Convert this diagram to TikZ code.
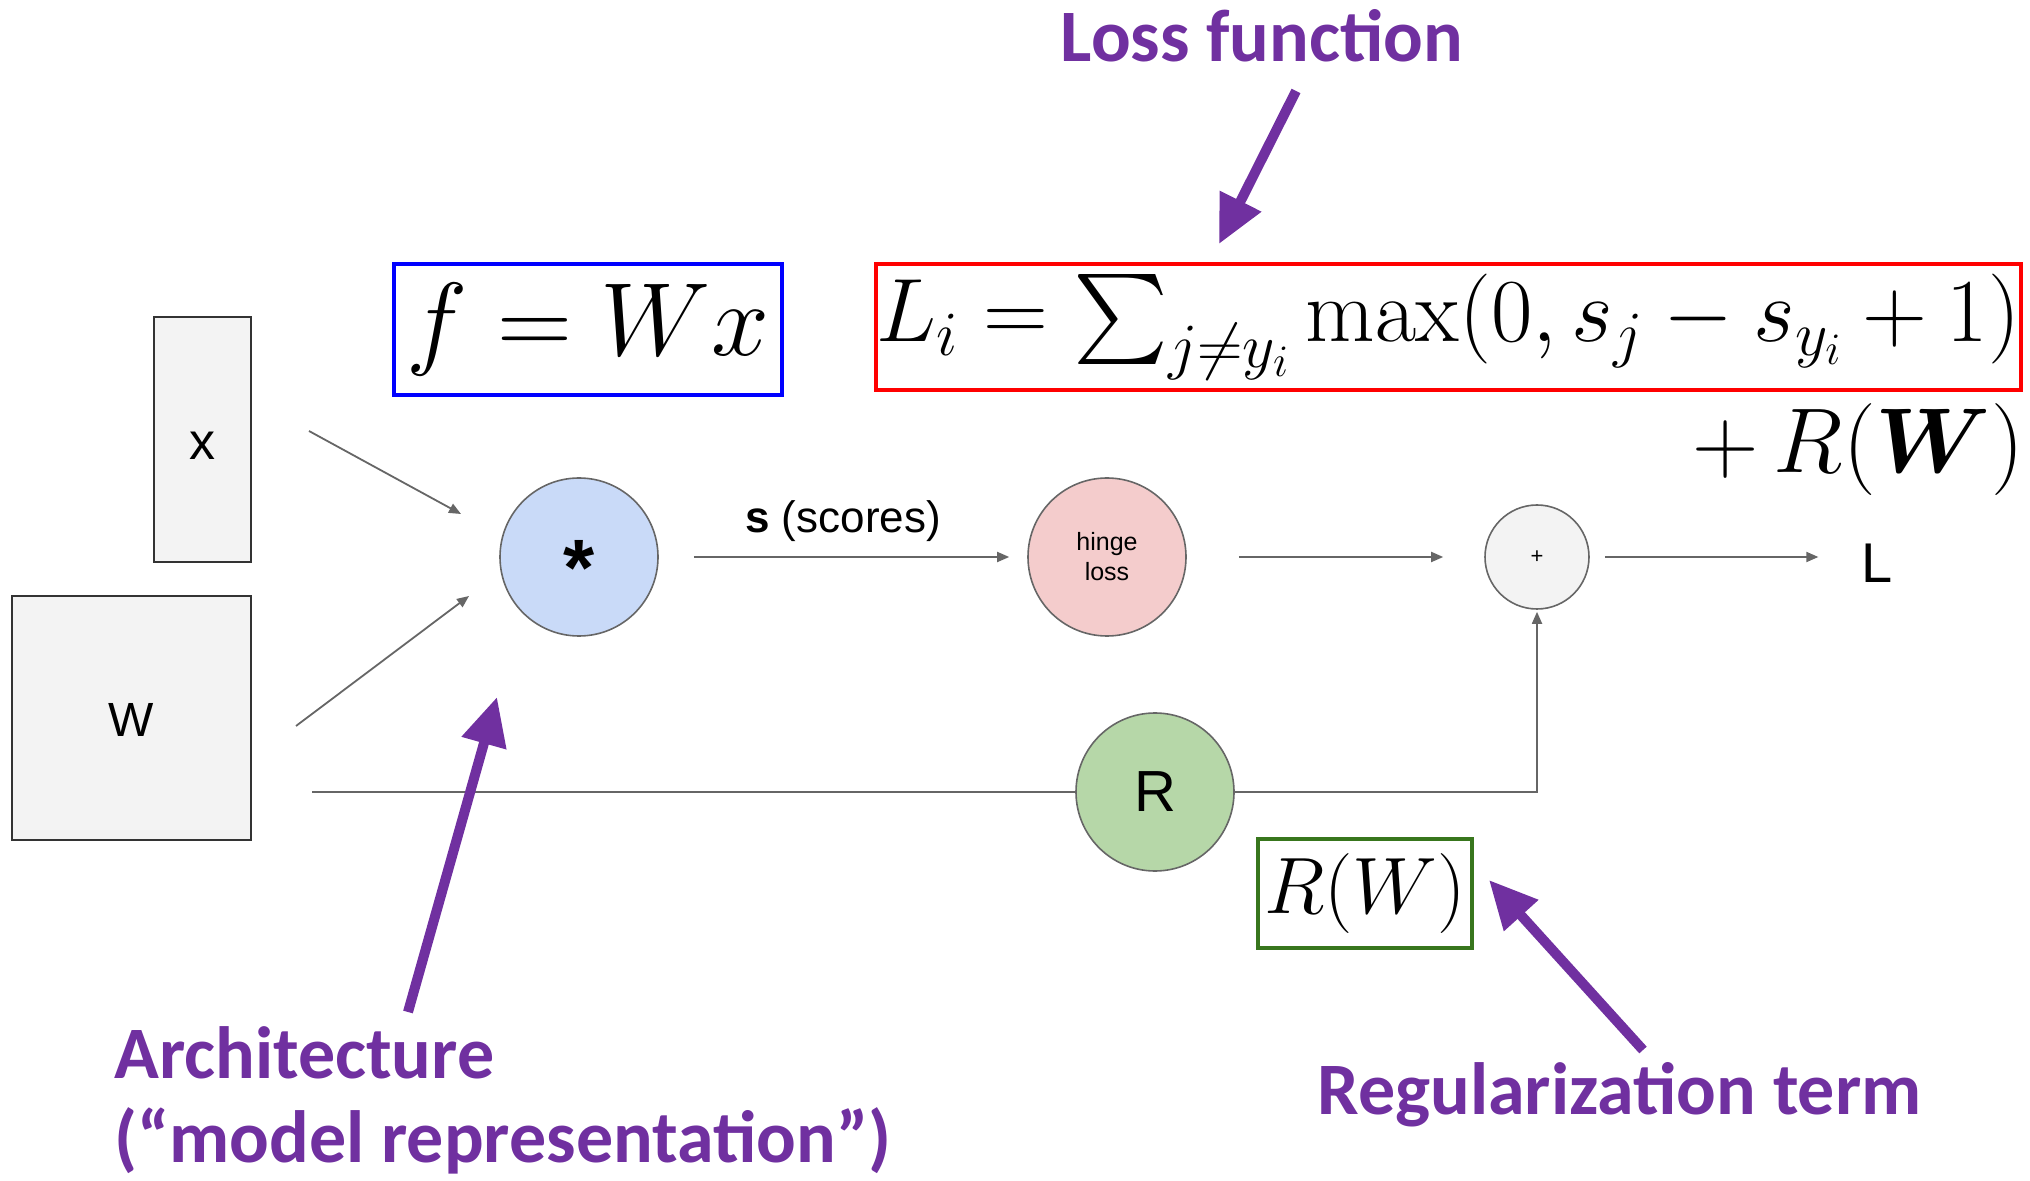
\RequirePackage{fix-cm}
\documentclass[tikz,border=0pt]{standalone}
\usepackage{amsmath}
\usepackage{bm}
\usepackage[no-math]{fontspec}
\DeclareFontShape{OMX}{cmex}{m}{n}{<->cmex10}{}
\setmainfont{Liberation Sans}
\newfontfamily\calib{Carlito}
\usetikzlibrary{arrows.meta}
\definecolor{purp}{HTML}{7030A0}
\definecolor{edgec}{HTML}{666666}
\definecolor{cblue}{HTML}{C9DAF8}
\definecolor{cpink}{HTML}{F4CCCC}
\definecolor{cgreen}{HTML}{B6D7A8}
\definecolor{cgray}{HTML}{F3F3F3}
\definecolor{rgreen}{HTML}{38761D}
\definecolor{mblue}{HTML}{0000FF}
\definecolor{mred}{HTML}{FF0000}
\tikzset{
  mat/.style={draw=black!80, line width=1pt, fill=cgray, inner sep=0pt},
  gate/.style={circle, draw=edgec, line width=0.8pt, inner sep=0pt, minimum size=#1},
  garrow/.style={draw=edgec, line width=0.9pt, -{Triangle[length=6pt,width=5pt]}},
  gline/.style={draw=edgec, line width=1pt},
  parrow/.style={draw=purp, line width=5pt, -{Triangle[length=24pt,width=22pt]}},
  plabel/.style={text=purp, font=\calib\bfseries\fontsize{37}{42}\selectfont},
  eqbox/.style={line width=1.6pt, inner sep=0pt, fill=white}
}
\begin{document}
\begin{tikzpicture}[x=0.5pt,y=-0.5pt]
\useasboundingbox (0,0) rectangle (2030,1181);
% matrices
\node[mat, minimum width=48.5pt, minimum height=122.5pt] (xbox) at (202.5,439.5) {\fontsize{26}{30}\selectfont\raisebox{-3pt}[\height][\depth]{x}};
\node[mat, minimum width=119.5pt, minimum height=122pt] (wbox) at (131.5,718) {\fontsize{24}{28}\selectfont\raisebox{-1pt}[\height][\depth]{W}};
% gates
\node[gate=79pt, fill=cblue] (star) at (579,557) {\fontsize{40}{40}\selectfont\bfseries\raisebox{-5.5pt}[\height][\depth]{*}};
\node[gate=79pt, fill=cpink, align=center, font=\fontsize{12.5}{15}\selectfont] (hinge) at (1107,557) {hinge\\loss};
\node[gate=52pt, fill=cgray] (plus) at (1537,557) {\fontsize{11}{11}\selectfont +};
\node[gate=79pt, fill=cgreen] (R) at (1155,792) {\fontsize{29}{30}\selectfont R};
\node (L) at (1877,563) {\fontsize{28}{30}\selectfont L};
% equations
\node[eqbox, draw=mblue, minimum width=194pt, minimum height=65.5pt] (fbox) at (588,329.5)
  {\fontsize{52}{54}\selectfont $f = Wx$};
\node[eqbox, draw=mred, minimum width=572.5pt, minimum height=63pt] (lbox) at (1448.5,327)
  {\fontsize{45}{48}\selectfont $L_i = \sum_{j\neq y_i}\max(0, s_j - s_{y_i} + 1)$};
\node[anchor=east, inner sep=0pt] (plusr) at (2024,450) {\fontsize{46}{48}\selectfont $+\,R(\bm{W})$};
\node[eqbox, draw=rgreen, minimum width=107pt, minimum height=54.5pt] (rbox) at (1365,893.5)
  {\fontsize{40}{42}\selectfont $R(W)$};
% connectors
\coordinate (xs) at (309,431);
\coordinate (xe) at (461,514);
\coordinate (ws) at (296,726);
\coordinate (we) at (469,596);
\draw[garrow] (xs) -- (xe);
\draw[garrow] (ws) -- (we);
\draw[garrow, shorten <=17.5pt, shorten >=9pt] (star) -- node[above=4pt, font=\fontsize{22}{24}\selectfont] (slab) {\textbf{s} (scores)} (hinge);
\draw[garrow, shorten <=26pt, shorten >=20.5pt] (hinge) -- (plus);
\draw[garrow, shorten <=7.5pt, shorten >=18pt] (plus) -- (plus -| L.west);
\coordinate (wl) at (312,792);
\draw[gline] (wl) -- (R.west);
\draw[garrow, shorten >=1pt] (R.east) -| (plus.south);
% annotations
\node[plabel, anchor=base] (lossfn) at (1262,62) {Loss function};
\coordinate (la) at (1296,91);
\coordinate (lb) at (1219,244);
\draw[parrow] (la) -- (lb);
\node[plabel, anchor=north west, align=left, inner sep=0pt] (arch) at (114,1026) {Architecture\\(“model representation”)};
\coordinate (aa) at (408,1012);
\coordinate (ab) at (497,697);
\draw[parrow] (aa) -- (ab);
\node[plabel, anchor=base west, inner sep=0pt] (reg) at (1317,1114) {Regularization term};
\coordinate (ra) at (1643,1050);
\coordinate (rb) at (1489,880);
\draw[parrow] (ra) -- (rb);
\end{tikzpicture}
\end{document}
